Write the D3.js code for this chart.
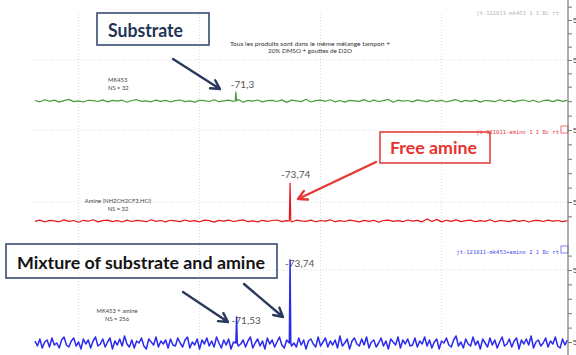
<!DOCTYPE html>
<html><head><meta charset="utf-8">
<script src="https://cdn.jsdelivr.net/npm/d3@7"></script>
<style>body{margin:0;background:#fff;overflow:hidden}svg{display:block}</style>
</head><body><svg id="c" width="576" height="355"></svg>
<script>
// ---- data ----
const ppmRange = [-63.2, -85.2];
const gridPpm = [-65, -70, -75, -80];
const greenStep = 0.2, redStep = 0.2, blueStep = 0.1;
const greenNoise = [
0.5,-0.8,1.2,-0.3,0.9,-1.1,0.4,1.6,-0.6,0.2,
-1.0,0.7,0.3,-0.5,1.1,-0.9,0.6,-0.2,0.8,-1.2,
0.5,1.3,-0.4,0.1,-0.8,0.9,-0.3,0.6,-1.0,0.4,
1.0,-0.6,0.2,-1.1,0.7,0.3,-0.5,1.2,-0.7,0.1,
0.8,-0.4,1.5,-1.3,0.6,-0.2,1.0,-0.9,0.3,0.7,
-0.5,1.1,-1.4,0.9,0.2,-0.6,1.7,-1.0,0.4,0.8,
-0.3,1.2,-0.8,0.5,-1.1,0.6,0.2,-0.4,1.4,-0.7,
0.9,-0.5,0.3,1.6,-1.2,0.8,-0.2,0.5,-0.9,1.1,
0.2,-0.6,1.0,-0.3,0.7,-1.0,0.4,1.3,-0.8,0.6,
-0.4,0.9,-1.1,0.5,0.2,-0.7,1.2,-0.3,0.8,-0.9,
0.4,1.0,-0.5,0.7,-1.2,0.3,0.9,-0.6,1.1,-0.4,0.6];
const redNoise = [
-0.4,0.9,-1.0,0.6,0.2,-0.8,1.1,-0.3,0.5,-1.2,
0.7,-0.2,1.3,-0.9,0.4,0.8,-0.6,0.3,-1.0,0.9,
-0.5,0.6,0.1,-0.7,1.2,-0.4,0.5,-0.9,0.7,0.2,
-0.6,1.0,-0.3,0.4,-0.8,0.9,0.3,-1.1,0.6,-0.2,
0.8,-0.5,0.4,1.1,-0.7,0.2,-0.9,0.7,-0.3,0.5,
1.0,-0.6,0.3,-1.0,0.8,0.1,-0.4,0.9,-0.8,0.5,
-0.2,1.2,-0.7,0.4,-0.5,0.8,0.2,-0.9,0.6,-0.3,
0.7,-1.1,0.5,0.9,-0.4,0.3,-0.7,1.0,-0.2,0.6,
-0.8,2.1,-0.5,1.6,-0.9,0.7,-0.3,1.1,-0.6,0.4,
0.9,-0.7,0.3,-0.4,1.3,-0.8,0.5,0.2,-0.6,0.9,
-0.3,0.7,-1.0,0.4,0.6,-0.5,0.8,-0.2,0.5,-0.7,0.3];
const blueNoise = [
2,-3,4,-5,1,3,-4,5,-2,0,
-5,3,6,-2,-4,2,5,-3,1,-6,
4,-1,3,-5,2,6,-3,-1,4,-4,
1,5,-6,2,-2,4,-3,7,-1,-4,
3,-5,2,0,5,-3,-6,4,1,-2,
6,-4,2,-1,3,-5,4,-2,-3,5,
0,-4,3,6,-5,1,-2,4,-6,3,
-1,5,-3,2,-4,6,0,-5,3,-2,
4,-6,1,5,-3,-1,3,-4,2,6,
-5,0,4,-3,2,-6,5,-1,3,-4,
1,6,-2,-5,3,4,-3,0,-4,5,
-2,3,-6,2,4,-1,-4,6,-3,1,
5,-4,2,-2,3,-5,7,-3,0,4,
-6,2,5,-1,-3,4,-2,6,-5,1,
3,-4,0,5,-3,2,-6,4,1,-2,
6,-5,3,-1,4,-3,-2,5,-4,2,
-1,6,-3,3,-5,1,4,-6,2,0,
5,-2,-4,3,7,-3,1,-5,4,-1,
-3,6,-2,2,-6,4,0,-4,5,-2,
3,-5,1,6,-3,-1,4,-4,2,5,
-6,3,-1,4,-2,7,-5,1,3,-3,
0,5,-4,2,-1,6,-3,-5,4,-2,
3];
const greenPeakPpm = [-71.5], greenPeakH = [9], greenPeakLabels = ["-71,3"];
const redPeakPpm = [-73.74], redPeakH = [38], redPeakLabels = ["-73,74"];
const bluePeakPpm = [-71.53, -73.74], bluePeakH = [26, 83], bluePeakLabels = ["-71,53", "-73,74"];
const greenAxisTicks = [0.1,0.2,0.3,0.4,0.5,0.6,0.7], greenAxisMajor = [0.3,0.6];
const redAxisTicks = [0,1,2,3,4,5,6,7,8], redAxisMajor = [1,6];
const blueAxisTicks = [0,1,2,3,4,5,6,7], blueAxisMajor = [1,6];
const traceTitles = ["jt-121011-mk453   1   1   Bc   rt", "jt-121011-amine   1   1   Bc   rt", "jt-121011-mk453+amine   2   1   Bc   rt"];
const sampleNames = [["MK453","NS = 32"],["Amine (NH2CH2CF3.HCl)","NS = 32"],["MK453 + amine","NS = 256"]];
const noteLines = ["Tous les produits sont dans le même mélange  tampon +", "20% DMSO + gouttes de D2O"];
const boxTexts = ["Substrate", "Free amine", "Mixture of substrate and amine"];

// ---- drawing ----
const svg = d3.select("#c");
const W = 576, H = 355;
const axisX = 568;
const x = d3.scaleLinear().domain(ppmRange).range([35, 567.4]);

const traces = [
  {noise: greenNoise, step: greenStep, pp: greenPeakPpm, ph: greenPeakH, pl: greenPeakLabels, color: "#4a9b3c", base: 101, sw: 1.2, ldx: -5, ldy: -4,
   axis: d3.scaleLinear().domain([0, 0.6]).range([100, 20]), ticks: greenAxisTicks, major: greenAxisMajor, gridMajor: [0.3],
   titleY: 15, titleColor: "#b5b5b5", nameX: 108, nameAnchor: "start", nameY: 82},
  {noise: redNoise, step: redStep, pp: redPeakPpm, ph: redPeakH, pl: redPeakLabels, color: "#e8161c", base: 221, sw: 1.2, ldx: -9, ldy: -5,
   axis: d3.scaleLinear().domain([1, 6]).range([202, 130]), ticks: redAxisTicks, major: redAxisMajor, gridMajor: [1, 6],
   titleY: 134, titleColor: "#e8363a", nameX: 118, nameAnchor: "middle", nameY: 203},
  {noise: blueNoise, step: blueStep, pp: bluePeakPpm, ph: bluePeakH, pl: bluePeakLabels, color: "#2a2af0", base: 343, sw: 1.5, ldx: -5, ldy: 7,
   axis: d3.scaleLinear().domain([1, 6]).range([342, 270]), ticks: blueAxisTicks, major: blueAxisMajor, gridMajor: [6],
   titleY: 254, titleColor: "#4b4bf0", nameX: 117, nameAnchor: "middle", nameY: 313}
];

// vertical grid
svg.append("g").selectAll("line").data(gridPpm).join("line")
  .attr("x1", d => x(d)).attr("x2", d => x(d)).attr("y1", 14).attr("y2", H)
  .attr("stroke", "#d4d4d4").attr("stroke-width", 0.8).attr("stroke-dasharray", "1,2");

traces.forEach((t, ti) => {
  const y = d3.scaleLinear().domain([0, 100]).range([t.base, t.base - 100]);
  svg.append("g").selectAll("line").data(t.gridMajor).join("line")
    .attr("x1", 35).attr("x2", axisX).attr("y1", d => t.axis(d)).attr("y2", d => t.axis(d))
    .attr("stroke", "#d4d4d4").attr("stroke-width", 0.8).attr("stroke-dasharray", "1,2");
  let pts = t.noise.map((v, i) => ({ppm: ppmRange[0] - i * t.step, v}));
  t.pp.forEach((p, k) => {
    pts = pts.filter(d => Math.abs(d.ppm - p) > 0.05);
    pts.push({ppm: p + 0.03, v: 0}, {ppm: p, v: t.ph[k]}, {ppm: p - 0.03, v: 0});
  });
  pts.sort((a, b) => b.ppm - a.ppm);
  const line = d3.line().x(d => x(d.ppm)).y(d => y(d.v));
  svg.append("path").datum(pts).attr("d", line).attr("fill", "none")
    .attr("stroke", t.color).attr("stroke-width", t.sw).attr("stroke-linejoin", "round");
  t.pp.forEach((p, k) => {
    svg.append("text").attr("x", x(p) + t.ldx).attr("y", y(t.ph[k]) + t.ldy)
      .attr("font-family", "Lato, 'Open Sans', sans-serif").attr("font-size", 10)
      .attr("fill", "#555").text(t.pl[k]);
  });
  const ax = d3.axisRight(t.axis).tickValues(t.ticks).tickSize(4).tickFormat(d => t.major.includes(d) ? "5" : "");
  const g = svg.append("g").attr("transform", `translate(${axisX},0)`).call(ax);
  g.select(".domain").remove();
  g.selectAll("line").attr("stroke", "#777");
  g.selectAll("text").attr("font-size", 8).attr("fill", "#444").attr("x", 5);
  svg.append("text").attr("x", 559).attr("y", t.titleY).attr("text-anchor", "end")
    .attr("font-family", "'DejaVu Sans Mono', monospace").attr("font-size", 5.5)
    .attr("fill", t.titleColor).text(traceTitles[ti]);
  if (ti > 0) {
    svg.append("rect").attr("x", 561).attr("y", t.titleY - 8).attr("width", 7).attr("height", 7)
      .attr("fill", "none").attr("stroke", t.titleColor).attr("stroke-width", 0.7);
  }
  const nt = svg.append("text").attr("font-family", "Lato, sans-serif").attr("font-size", 5.8).attr("fill", "#444")
    .attr("text-anchor", t.nameAnchor);
  sampleNames[ti].forEach((s, k) => nt.append("tspan").attr("x", t.nameX).attr("y", t.nameY + k * 8).text(s));
});

svg.append("line").attr("x1", axisX).attr("x2", axisX).attr("y1", 0).attr("y2", H)
  .attr("stroke", "#777").attr("stroke-width", 1.2);

svg.append("text").attr("x", 310).attr("y", 46).attr("text-anchor", "middle")
  .attr("font-family", "Lato, sans-serif").attr("font-size", 5.8).attr("fill", "#333")
  .attr("textLength", 160).attr("lengthAdjust", "spacingAndGlyphs").text(noteLines[0]);
svg.append("text").attr("x", 310).attr("y", 53).attr("text-anchor", "middle")
  .attr("font-family", "Lato, sans-serif").attr("font-size", 5.8).attr("fill", "#333")
  .attr("textLength", 84).attr("lengthAdjust", "spacingAndGlyphs").text(noteLines[1]);

const boxes = [
  {x: 97, y: 13, w: 112, h: 32, tx: 108, ty: 36.5, tl: 75, fs: 18, color: "#1f3556", border: "#3a4c72", text: boxTexts[0]},
  {x: 380, y: 132, w: 110, h: 31, tx: 390, ty: 154, tl: 87, fs: 17, color: "#e8322e", border: "#e0413c", text: boxTexts[1]},
  {x: 6, y: 244, w: 271, h: 34, tx: 17, ty: 268.5, tl: 248, fs: 17, color: "#141414", border: "#3a4c72", text: boxTexts[2]}
];
boxes.forEach(b => {
  svg.append("rect").attr("x", b.x).attr("y", b.y).attr("width", b.w).attr("height", b.h)
    .attr("fill", "none").attr("stroke", b.border).attr("stroke-width", 1.6);
  svg.append("text").attr("x", b.tx).attr("y", b.ty).attr("font-family", "Lato, sans-serif")
    .attr("font-weight", 700).attr("font-size", b.fs).attr("fill", b.color)
    .attr("textLength", b.tl).attr("lengthAdjust", "spacingAndGlyphs").text(b.text);
});

const arrows = [
  {x1: 173, y1: 59, x2: 220, y2: 89, c: "#2b3a5c"},
  {x1: 376, y1: 162, x2: 298, y2: 199, c: "#e53935"},
  {x1: 183, y1: 292, x2: 228, y2: 322, c: "#2b3a5c"},
  {x1: 244, y1: 284, x2: 283, y2: 317, c: "#2b3a5c"}
];
arrows.forEach(a => {
  const ang = Math.atan2(a.y2 - a.y1, a.x2 - a.x1);
  const L = 10, s = 0.5;
  const p1 = [a.x2 - L * Math.cos(ang - s), a.y2 - L * Math.sin(ang - s)];
  const p2 = [a.x2 - L * Math.cos(ang + s), a.y2 - L * Math.sin(ang + s)];
  svg.append("path").attr("d", `M${a.x1},${a.y1}L${a.x2},${a.y2}M${p1}L${a.x2},${a.y2}L${p2}`)
    .attr("fill", "none").attr("stroke", a.c).attr("stroke-width", 2.4).attr("stroke-linecap", "round").attr("stroke-linejoin", "round");
});
</script></body></html>
